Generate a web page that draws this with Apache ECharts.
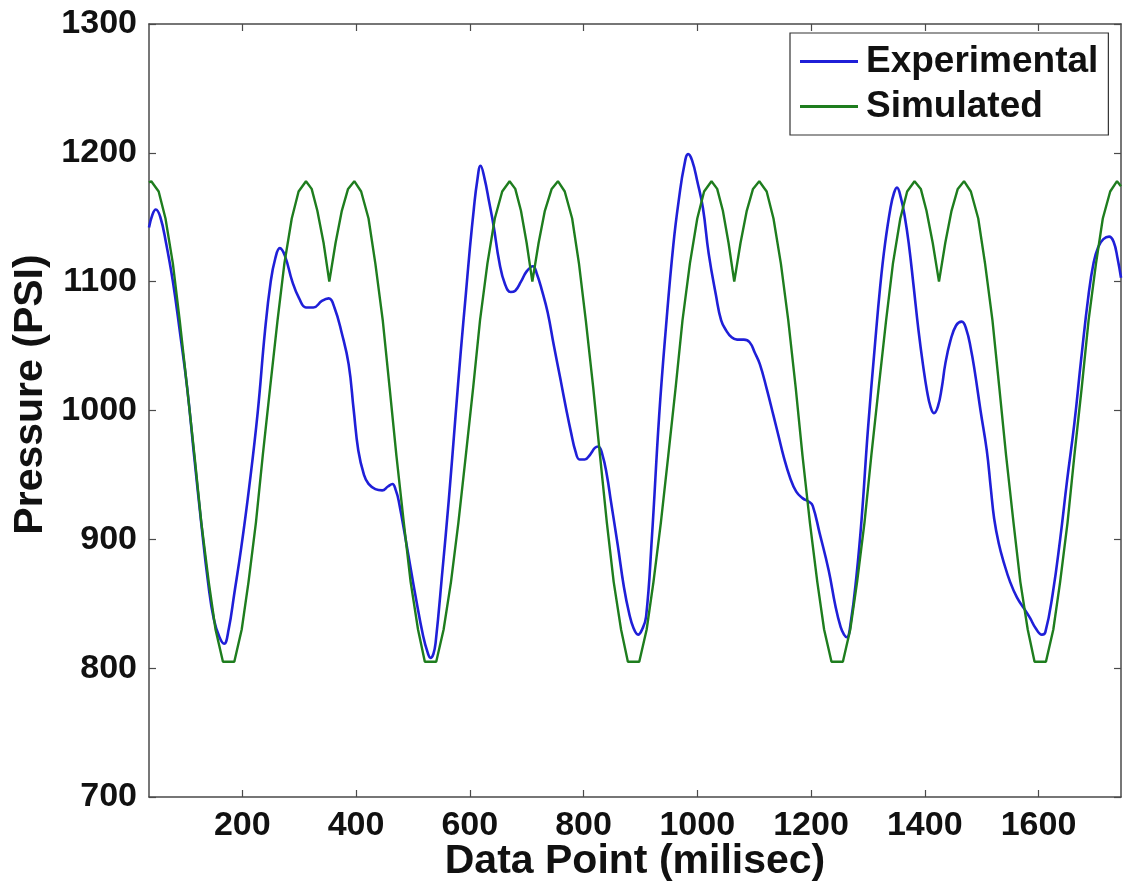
<!DOCTYPE html>
<html>
<head>
<meta charset="utf-8">
<script src="https://cdn.jsdelivr.net/npm/echarts@6/dist/echarts.min.js"></script>
<style>
  html, body { margin: 0; padding: 0; background: #ffffff; }
  #chart { width: 1126px; height: 884px; }
</style>
</head>
<body>
<div id="chart"></div>
<script>
// Measured pressure trace [time (ms), PSI]
const expPoints = [
  [36,1142],[42,1152],[48,1156],[56,1150],[66,1130],[78,1100],[90,1062],[103,1018],[116,962],[128,912],
  [140,866],[150,838],[160,824],[168,819],[176,830],[186,858],[198,893],[212,940],[227,998],[240,1062],
  [250,1100],[258,1118],[266,1126],[275,1120],[288,1100],[300,1087],[312,1080],[325,1080],[340,1085],[352,1087],
  [362,1080],[375,1060],[387,1036],[396,1000],[404,969],[414,950],[422,943],[434,939],[446,938],[456,941],
  [464,943],[470,938],[475,930],[490,893],[505,855],[518,825],[526,812],[531,808],[536,811],[540,820],
  [552,876],[563,930],[575,996],[584,1045],[593,1090],[600,1125],[607,1156],[613,1178],[619,1190],[626,1180],
  [634,1162],[642,1143],[652,1115],[662,1098],[672,1092],[680,1093],[690,1100],[700,1108],[711,1112],[718,1106],
  [727,1093],[737,1076],[748,1050],[760,1023],[770,1000],[778,983],[786,968],[793,962],[802,962],[812,966],
  [820,971],[826,972],[833,966],[841,950],[848,930],[860,896],[871,863],[880,843],[888,831],[896,826],
  [903,830],[910,840],[920,900],[933,996],[945,1065],[958,1129],[968,1165],[977,1190],[984,1199],[991,1194],
  [1000,1178],[1010,1157],[1020,1122],[1033,1089],[1042,1070],[1051,1062],[1060,1057],[1070,1055],[1082,1055],[1092,1053],
  [1101,1045],[1110,1036],[1122,1017],[1134,996],[1143,980],[1152,964],[1163,948],[1174,937],[1185,932],[1197,929],
  [1203,926],[1215,905],[1231,876],[1243,848],[1252,832],[1258,826],[1263,824],[1270,836],[1280,872],[1289,916],
  [1300,985],[1312,1049],[1322,1098],[1330,1129],[1340,1158],[1346,1169],[1351,1173],[1358,1165],[1365,1150],[1372,1129],
  [1380,1098],[1389,1062],[1397,1035],[1404,1015],[1410,1003],[1416,998],[1423,1003],[1430,1018],[1436,1036],[1445,1054],
  [1455,1066],[1465,1069],[1473,1063],[1481,1048],[1488,1030],[1498,1000],[1509,969],[1516,940],[1522,916],[1530,897],
  [1539,882],[1550,867],[1562,855],[1575,846],[1585,839],[1595,831],[1606,826],[1612,828],[1625,858],[1638,900],
  [1650,945],[1663,990],[1675,1040],[1688,1090],[1697,1115],[1705,1127],[1714,1133],[1724,1135],[1732,1131],[1739,1118],
  [1745,1103]
];

// Model output [time (ms), PSI]
const simPoints = [
  [36,1177],[40,1178],[53,1170],[65,1149],[78,1114],[90,1070],[103,1018],[116,965],[128,913],[141,867],
  [153,830],[166,805],[186,805],[199,830],[211,867],[224,913],[236,965],[249,1018],[262,1070],[274,1114],
  [287,1149],[299,1170],[312,1178],[322,1172],[332,1155],[343,1130],[353,1100],[364,1130],[375,1155],[386,1172],
  [397,1178],[409,1170],[422,1149],[434,1114],[447,1070],[459,1018],[471,965],[484,913],[496,867],[509,830],
  [521,805],[541,805],[554,830],[567,867],[580,913],[593,965],[606,1018],[618,1070],[631,1114],[644,1149],
  [657,1170],[670,1178],[680,1172],[690,1155],[700,1130],[710,1100],[721,1130],[732,1155],[744,1172],[755,1178],
  [767,1170],[780,1149],[792,1114],[804,1070],[817,1018],[829,965],[841,913],[853,867],[866,830],[878,805],
  [898,805],[911,830],[923,867],[936,913],[949,965],[962,1018],[974,1070],[987,1114],[1000,1149],[1012,1170],
  [1025,1178],[1035,1172],[1045,1155],[1055,1130],[1065,1100],[1076,1130],[1087,1155],[1098,1172],[1109,1178],[1122,1170],
  [1134,1149],[1147,1114],[1160,1070],[1173,1018],[1185,965],[1198,913],[1211,867],[1223,830],[1236,805],[1256,805],
  [1269,830],[1281,867],[1294,913],[1306,965],[1319,1018],[1332,1070],[1344,1114],[1357,1149],[1369,1170],[1382,1178],
  [1393,1172],[1403,1155],[1414,1130],[1425,1100],[1436,1130],[1447,1155],[1458,1172],[1469,1178],[1481,1170],[1494,1149],
  [1506,1114],[1519,1070],[1531,1018],[1543,965],[1556,913],[1568,867],[1581,830],[1593,805],[1613,805],[1626,830],
  [1638,867],[1651,913],[1663,965],[1676,1018],[1688,1070],[1701,1114],[1713,1149],[1726,1170],[1738,1178],[1745,1174]
];

const seriesNames = ['Experimental', 'Simulated'];
const xTicks = [200, 400, 600, 800, 1000, 1200, 1400, 1600];
const xRange = [36, 1745];
const yRange = [700, 1300];
const yStep = 100;

const FONT = 'Liberation Sans, Arial, Helvetica, sans-serif';
const AXIS_COLOR = '#4a4a4a';
const TEXT_COLOR = '#111111';
const plainNumber = v => String(v);

const boxLine = { show: true, onZero: false, lineStyle: { color: AXIS_COLOR, width: 1.5 } };
const inTick = { show: true, inside: true, length: 7, lineStyle: { color: AXIS_COLOR, width: 1.2 } };
const titleStyle = { fontSize: 41, fontWeight: 'bold', color: TEXT_COLOR, fontFamily: FONT };
const tickText = { fontSize: 34, fontWeight: 'bold', color: TEXT_COLOR, fontFamily: FONT };

const chart = echarts.init(document.getElementById('chart'), null, { renderer: 'canvas' });

chart.setOption({
  backgroundColor: '#ffffff',
  animation: false,
  textStyle: { fontFamily: FONT },
  grid: { left: 149, right: 5, top: 24, bottom: 87, containLabel: false, outerBoundsMode: 'none' },
  legend: {
    orient: 'vertical',
    left: 790,
    top: 33,
    padding: [10, 10, 10, 10],
    itemGap: 8,
    itemWidth: 58,
    itemHeight: 3,
    icon: 'rect',
    backgroundColor: '#ffffff',
    borderColor: '#333333',
    borderWidth: 1.2,
    borderRadius: 0,
    data: seriesNames,
    textStyle: Object.assign({ lineHeight: 35, padding: [0, 0, 0, 3] }, tickText, { fontSize: 37 })
  },
  xAxis: [
    {
      type: 'value',
      position: 'bottom',
      min: xRange[0],
      max: xRange[1],
      name: 'Data Point (milisec)',
      nameLocation: 'middle',
      nameGap: 44,
      nameMoveOverlap: false,
      nameTextStyle: titleStyle,
      axisLine: boxLine,
      axisTick: Object.assign({ customValues: xTicks }, inTick),
      axisLabel: Object.assign({ customValues: xTicks, margin: 12, formatter: plainNumber }, tickText),
      splitLine: { show: false }
    },
    {
      type: 'value',
      position: 'top',
      min: xRange[0],
      max: xRange[1],
      axisLine: boxLine,
      axisTick: Object.assign({ customValues: xTicks }, inTick),
      axisLabel: { show: false, customValues: xTicks },
      splitLine: { show: false }
    }
  ],
  yAxis: [
    {
      type: 'value',
      position: 'left',
      min: yRange[0],
      max: yRange[1],
      interval: yStep,
      name: 'Pressure (PSI)',
      nameLocation: 'middle',
      nameGap: 98,
      nameRotate: 90,
      nameMoveOverlap: false,
      nameTextStyle: Object.assign({ padding: [0, 0, 0, 32] }, titleStyle),
      axisLine: boxLine,
      axisTick: inTick,
      axisLabel: Object.assign({ margin: 12, formatter: plainNumber }, tickText),
      splitLine: { show: false }
    },
    {
      type: 'value',
      position: 'right',
      min: yRange[0],
      max: yRange[1],
      interval: yStep,
      axisLine: boxLine,
      axisTick: inTick,
      axisLabel: { show: false },
      splitLine: { show: false }
    }
  ],
  series: [
    {
      name: seriesNames[0],
      type: 'line',
      data: expPoints,
      xAxisIndex: 0,
      yAxisIndex: 0,
      symbol: 'none',
      smooth: 0.45,
      lineStyle: { color: '#1f1fd8', width: 2.6 },
      itemStyle: { color: '#1f1fd8' },
      z: 2
    },
    {
      name: seriesNames[1],
      type: 'line',
      data: simPoints,
      xAxisIndex: 0,
      yAxisIndex: 0,
      symbol: 'none',
      lineStyle: { color: '#1e7d1e', width: 2.4 },
      itemStyle: { color: '#1e7d1e' },
      z: 3
    }
  ]
});
</script>
</body>
</html>
